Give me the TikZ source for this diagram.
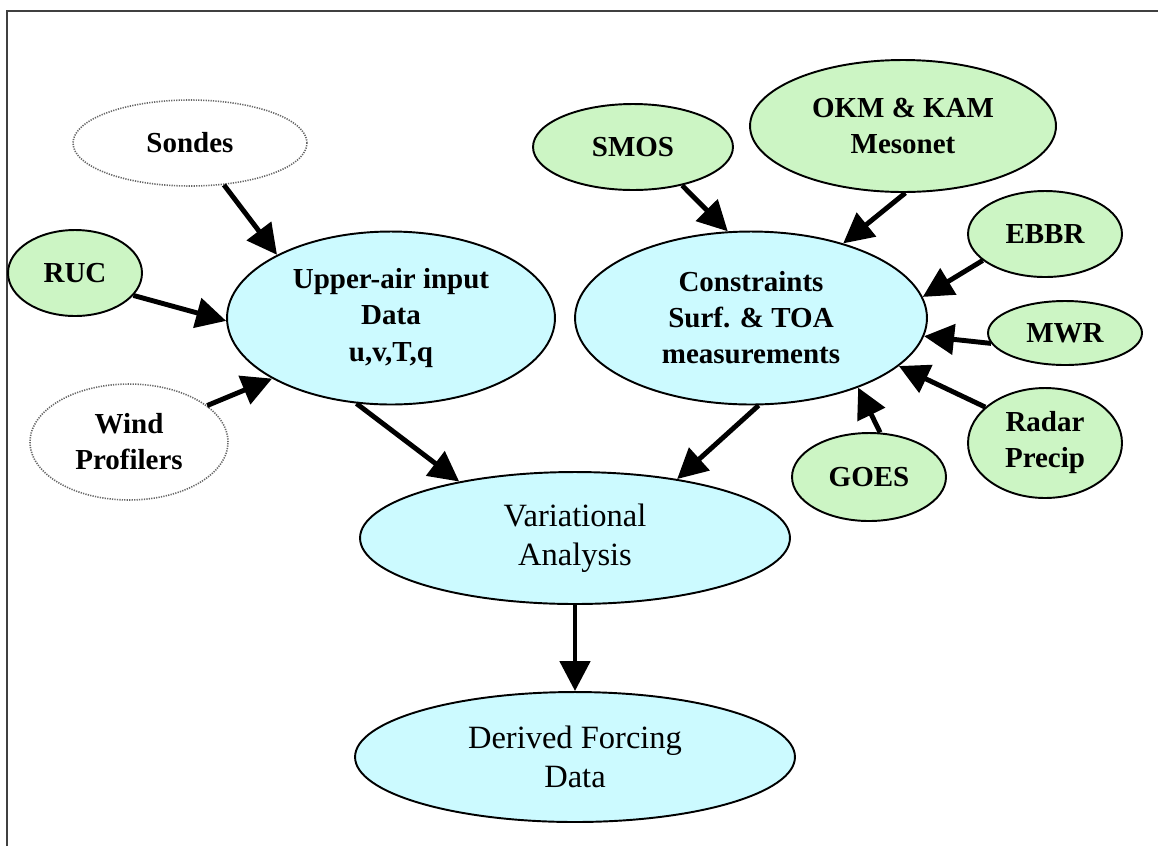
\documentclass[tikz,border=0pt]{standalone}
\usepackage{fontspec}
\setmainfont{Liberation Serif}
\usepackage{tikz}
\usetikzlibrary{shapes.geometric, arrows.meta, positioning}
\definecolor{obsgreen}{HTML}{CCF5C4}
\definecolor{anacyan}{HTML}{CCFAFF}
\definecolor{framegray}{HTML}{404040}

\begin{document}
\begin{tikzpicture}[x=0.02cm, y=-0.02cm,
  obs/.style={ellipse, draw, line width=1.1pt, fill=obsgreen, align=center, inner sep=0pt, font=\bfseries\fontsize{16.5}{20.5}\selectfont},
  prof/.style={ellipse, draw=black!60, line width=0.9pt, dash pattern=on 0.7pt off 0.7pt, fill=white, align=center, inner sep=0pt, font=\bfseries\fontsize{16.5}{20.5}\selectfont},
  input/.style={ellipse, draw, line width=1.1pt, fill=anacyan, align=center, inner sep=0pt, font=\bfseries\fontsize{16.5}{20.5}\selectfont},
  proc/.style={ellipse, draw, line width=1.1pt, fill=anacyan, align=center, inner sep=0pt, font=\fontsize{18.5}{22.5}\selectfont},
  arr/.style={-{Triangle[length=0.6cm, width=0.6cm]}, line width=2.8pt},
]
\useasboundingbox (0,0) rectangle (1158,846);
\draw[framegray, line width=1.2pt] (7,846) -- (7,11) -- (1158,11);

% --- upper-air sources (left) ---
\node[prof, minimum width=4.68cm, minimum height=1.72cm] (sondes) at (190,143) {Sondes};
\node[obs, minimum width=2.68cm, minimum height=1.72cm] (ruc) at (75,273) {RUC};
\node[prof, minimum width=3.96cm, minimum height=2.32cm] (wind) at (129,442) {Wind\\ Profilers};

% --- surface sources (right) ---
\node[obs, minimum width=4.0cm, minimum height=1.72cm] (smos) at (633,147) {SMOS};
\node[obs, minimum width=6.12cm, minimum height=2.64cm] (okm) at (903,126) {OKM \& KAM\\ Mesonet};
\node[obs, minimum width=3.08cm, minimum height=1.72cm] (ebbr) at (1045,234) {EBBR};
\node[obs, minimum width=3.08cm, minimum height=1.28cm] (mwr) at (1065,333) {MWR};
\node[obs, minimum width=3.08cm, minimum height=2.2cm] (radar) at (1045,443) {Radar\\ Precip};
\node[obs, minimum width=3.08cm, minimum height=1.76cm] (goes) at (869,477) {GOES};

% --- inputs and analysis ---
\node[input, minimum width=6.56cm, minimum height=3.46cm] (upper) at (391,318) {Upper-air input\\ Data\\ u,v,T,q};
\node[input, minimum width=7.04cm, minimum height=3.46cm] (constr) at (751,318) {Constraints\\ Surf. \& TOA\\ measurements};
\node[proc, minimum width=8.6cm, minimum height=2.64cm] (var) at (575,538) {Variational\\ Analysis};
\node[proc, minimum width=8.8cm, minimum height=2.6cm] (derived) at (575,757) {Derived Forcing\\ Data};

% --- arrows ---
\draw[arr] (sondes.-51) -- (upper.151);
\draw[arr] (ruc.-21) -- (upper.181);
\draw[arr] (wind.25) -- (upper.207);
\draw[arr] (smos.-38) -- (constr.105);
\draw[arr] (okm.-88) -- (constr.39);
\draw[arr] (ebbr.203) -- (constr.7);
\draw[arr] (mwr.188) -- (constr.-6.5);
\draw[arr] (radar.149) -- (constr.-18);
\draw[arr] (goes.76) -- (constr.-33);
\draw[arr] (upper.248) -- (var.154);
\draw[arr] (constr.-85) -- (var.30);
\draw[arr] (var.south) -- (derived.north);
\end{tikzpicture}
\end{document}
